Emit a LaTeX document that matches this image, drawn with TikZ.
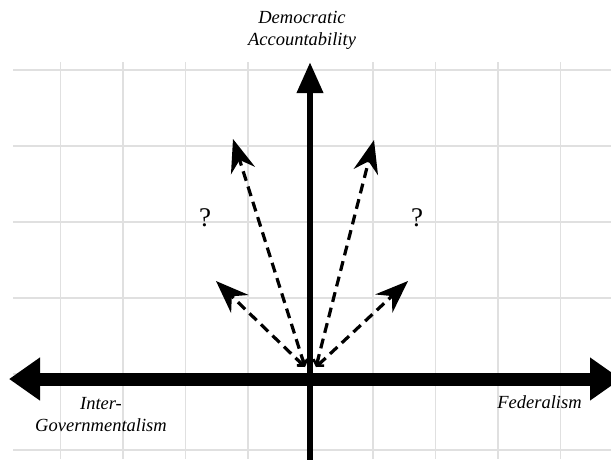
\documentclass[tikz,border=0pt]{standalone}
\usepackage{fontspec}
\setmainfont{Liberation Serif}
\usetikzlibrary{arrows.meta}
\begin{document}
\begin{tikzpicture}[x=1pt,y=-1pt,
  gridline/.style={draw=black!12,line width=1.4pt},
  mainaxis/.style={draw=black,line width=#1},
  dasharrow/.style={draw=black,line width=3.2pt,dash pattern=on 10pt off 6pt,
    arrows={Straight Barb[length=5pt,width=9pt,line width=2.6pt,sep=0pt]-Stealth[length=33pt,width=25pt,inset=11pt]}},
  axlabel/.style={font=\itshape\fontsize{18.5}{22}\selectfont,inner sep=0pt,align=center},
  qmark/.style={font=\fontsize{27}{30}\selectfont,inner sep=0pt}]
\useasboundingbox (0,0) rectangle (611,459);
\clip (0,0) rectangle (611,459);
% grid
\foreach \y in {70,146,222,298,374,450} \draw[gridline] (13,\y) -- (611,\y);
\foreach \x in {60.5,123,185.5,248,373,435.5,498,560.5} \draw[gridline] (\x,62) -- (\x,459);
% coordinates
\coordinate (vbot) at (310,465);
\coordinate (vtop) at (310,62);
\coordinate (hleft) at (9,379);
\coordinate (hright) at (621,379);
\coordinate (ol) at (305,367);
\coordinate (or) at (316,367);
\coordinate (l1) at (233,139);
\coordinate (r1) at (374,140);
\coordinate (l2) at (216,281);
\coordinate (r2) at (408,281);
% axes
\draw[mainaxis=13pt,arrows={Triangle[length=31pt,width=41pt]-Triangle[length=31pt,width=41pt]}] (hleft) -- (hright);
\draw[mainaxis=6.7pt,-{Triangle[length=31pt,width=25pt]}] (vbot) -- (vtop);
% dashed arrows
\draw[dasharrow] (ol) -- (l1);
\draw[dasharrow] (ol) -- (l2);
\draw[dasharrow] (or) -- (r1);
\draw[dasharrow] (or) -- (r2);
% labels
\node[axlabel,anchor=north] (da) at (302,11) {Democratic\\Accountability};
\node[axlabel,anchor=north] (ig) at (101,397) {Inter-\\Governmentalism};
\node[axlabel,anchor=base] (fed) at (539.5,408) {Federalism};
\node[qmark,anchor=base] (q1) at (205,226) {?};
\node[qmark,anchor=base] (q2) at (417,226) {?};
\end{tikzpicture}
\end{document}
